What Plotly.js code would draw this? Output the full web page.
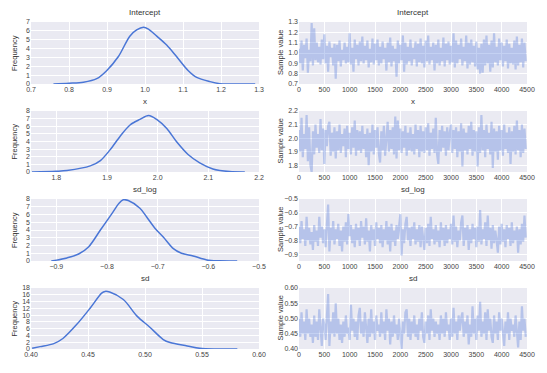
<!DOCTYPE html>
<html>
<head>
<meta charset="utf-8">
<script src="https://cdn.plot.ly/plotly-3.0.1.min.js"></script>
<style>html,body{margin:0;padding:0;background:#fff}#chart{width:547px;height:373px}</style>
</head>
<body>
<div id="chart"></div>
<script>
// ---- data ----
const paramNames = ["Intercept", "x", "sd_log", "sd"];
const traceStep = 25; // samples between recorded trace points

const kdeInterceptX = [0.759, 0.80, 0.838, 0.873, 0.899, 0.93, 0.96, 0.978, 0.996, 1.009, 1.031, 1.057, 1.083, 1.114, 1.136, 1.171, 1.197, 1.23, 1.29];
const kdeInterceptY = [0, 0.08, 0.2, 0.6, 1.5, 3.1, 5.4, 6.1, 6.4, 6.2, 5.4, 4.4, 3.1, 1.5, 0.75, 0.27, 0.04, 0.01, 0];
const kdeXX = [1.752, 1.80, 1.821, 1.867, 1.887, 1.906, 1.926, 1.946, 1.965, 1.982, 1.998, 2.018, 2.037, 2.06, 2.083, 2.109, 2.142, 2.172];
const kdeXY = [0, 0.1, 0.2, 0.8, 1.5, 2.9, 4.7, 6.2, 6.9, 7.4, 6.9, 5.7, 4.0, 2.3, 1.2, 0.4, 0.05, 0];
const kdeSdLogX = [-0.910, -0.879, -0.856, -0.836, -0.813, -0.790, -0.777, -0.768, -0.758, -0.735, -0.722, -0.705, -0.689, -0.669, -0.653, -0.630, -0.603, -0.577, -0.543];
const kdeSdLogY = [0, 0.4, 0.9, 1.85, 4.0, 6.15, 7.4, 7.9, 7.8, 6.8, 5.7, 4.2, 3.1, 1.6, 1.0, 0.65, 0.13, 0.02, 0];
const kdeSdX = [0.401, 0.408, 0.420, 0.428, 0.440, 0.452, 0.462, 0.465, 0.469, 0.481, 0.493, 0.504, 0.516, 0.522, 0.537, 0.548, 0.563, 0.581];
const kdeSdY = [0.2, 0.7, 1.6, 3.1, 7.2, 12.1, 16.5, 17.0, 16.8, 14.6, 9.7, 6.5, 2.8, 1.9, 0.9, 0.2, 0, 0];

const traceIntercept = [
1.04,0.90,1.12,0.83,1.08,0.95,1.14,0.81,1.03,0.92,
1.29,0.88,1.24,0.93,1.10,0.91,1.06,0.89,1.13,0.94,
1.18,0.90,1.07,0.82,1.11,0.96,1.05,0.88,1.09,0.75,
1.08,0.92,1.12,0.87,1.03,0.93,1.10,0.90,1.06,0.91,
1.19,0.89,1.05,0.82,1.13,0.94,1.08,0.88,1.11,0.92,
1.16,0.90,1.07,0.93,1.12,0.86,1.04,0.91,1.14,0.89,
1.09,0.93,1.13,0.88,1.06,0.90,1.11,0.94,1.05,0.83,
1.10,0.91,1.15,0.87,1.07,0.92,1.04,0.77,1.12,0.90,
1.08,0.93,1.17,0.82,1.10,0.89,1.06,0.92,1.13,0.88,
1.05,0.94,1.11,0.87,1.09,0.91,1.14,0.90,1.07,0.86,
1.12,0.92,1.17,0.89,1.06,0.93,1.10,0.83,1.08,0.90,
1.13,0.88,1.05,0.92,1.15,0.87,1.09,0.93,1.11,0.89,
1.07,0.91,1.19,0.86,1.12,0.90,1.08,0.94,1.14,0.88,
1.06,0.92,1.17,0.85,1.10,0.89,1.13,0.91,1.07,0.87,
1.11,0.84,1.05,0.80,1.09,0.81,1.13,0.88,1.17,0.90,
1.08,0.82,1.12,0.86,1.19,0.91,1.06,0.88,1.14,0.93,
1.10,0.87,1.07,0.92,1.13,0.85,1.09,0.90,1.05,0.89,
1.12,0.84,1.16,0.88,1.08,0.91,1.14,0.86,1.10,0.92];

const traceX = [
2.06,1.90,2.15,1.86,2.03,1.92,2.17,1.83,2.08,1.80,
1.75,2.05,1.88,2.10,1.93,2.03,1.89,2.14,1.91,2.07,
1.81,2.06,1.94,2.09,2.12,1.87,2.04,1.90,2.08,1.85,
2.05,1.91,2.10,1.89,2.03,1.94,2.07,1.86,2.09,1.92,
2.04,1.88,2.08,1.93,2.13,1.87,2.06,1.91,2.05,1.89,
2.09,1.92,2.03,1.86,2.07,1.80,2.04,1.90,2.10,1.88,
2.06,1.93,2.08,1.89,1.82,2.05,1.91,2.09,1.87,2.04,
2.12,1.90,2.06,1.92,2.08,1.88,2.16,1.85,2.13,1.91,
2.07,1.89,2.05,1.93,2.09,1.87,2.04,1.91,2.08,1.90,
2.03,1.88,2.10,1.92,2.06,1.86,2.09,1.90,2.05,1.89,
2.08,1.91,2.11,1.87,2.04,1.92,2.07,1.89,2.15,1.88,
1.81,2.06,1.90,2.09,1.93,2.05,1.87,2.08,1.91,2.04,
2.10,1.89,2.06,1.92,2.08,1.86,2.05,1.90,2.11,1.79,
2.07,1.91,2.04,1.88,2.09,1.92,2.12,1.87,2.06,1.90,
2.05,1.79,2.08,1.89,2.17,1.91,2.06,1.86,2.10,1.92,
2.04,1.88,2.12,1.78,2.07,1.90,2.05,1.84,2.09,1.91,
2.06,1.87,2.10,1.92,2.04,1.89,2.08,1.81,2.05,1.90,
2.09,1.88,2.13,1.91,2.06,1.86,2.10,1.89,2.07,1.92];

const traceSdLog = [
-0.70,-0.82,-0.66,-0.79,-0.72,-0.84,-0.63,-0.80,-0.71,-0.83,
-0.74,-0.87,-0.69,-0.81,-0.73,-0.84,-0.63,-0.78,-0.70,-0.82,
-0.72,-0.85,-0.69,-0.54,-0.88,-0.71,-0.80,-0.66,-0.83,-0.72,
-0.79,-0.68,-0.84,-0.73,-0.88,-0.70,-0.81,-0.67,-0.83,-0.61,
-0.77,-0.69,-0.82,-0.72,-0.85,-0.68,-0.80,-0.71,-0.84,-0.66,
-0.78,-0.70,-0.83,-0.64,-0.81,-0.73,-0.88,-0.69,-0.80,-0.72,
-0.84,-0.67,-0.79,-0.71,-0.82,-0.69,-0.85,-0.72,-0.80,-0.66,
-0.83,-0.70,-0.88,-0.68,-0.81,-0.73,-0.84,-0.69,-0.79,-0.71,
-0.61,-0.91,-0.72,-0.82,-0.68,-0.63,-0.80,-0.71,-0.84,-0.70,
-0.79,-0.67,-0.83,-0.72,-0.81,-0.69,-0.85,-0.70,-0.80,-0.87,
-0.71,-0.82,-0.68,-0.84,-0.63,-0.79,-0.72,-0.83,-0.69,-0.81,
-0.73,-0.85,-0.67,-0.80,-0.71,-0.84,-0.69,-0.82,-0.72,-0.79,
-0.68,-0.83,-0.62,-0.81,-0.70,-0.85,-0.73,-0.80,-0.67,-0.62,
-0.84,-0.71,-0.80,-0.69,-0.87,-0.72,-0.82,-0.68,-0.79,-0.71,
-0.85,-0.70,-0.81,-0.58,-0.83,-0.72,-0.79,-0.67,-0.84,-0.62,
-0.80,-0.71,-0.86,-0.69,-0.82,-0.73,-0.80,-0.89,-0.70,-0.83,
-0.68,-0.81,-0.72,-0.85,-0.69,-0.79,-0.71,-0.84,-0.67,-0.82,
-0.73,-0.80,-0.70,-0.89,-0.72,-0.83,-0.68,-0.81,-0.62,-0.78];

const traceSd = [
0.50,0.44,0.52,0.45,0.49,0.43,0.53,0.45,0.50,0.44,
0.48,0.42,0.51,0.44,0.49,0.43,0.53,0.46,0.41,0.50,
0.48,0.43,0.51,0.58,0.41,0.49,0.45,0.52,0.44,0.55,
0.45,0.50,0.43,0.48,0.42,0.49,0.44,0.51,0.45,0.47,
0.43,0.545,0.46,0.50,0.44,0.49,0.43,0.51,0.535,0.45,
0.49,0.44,0.52,0.46,0.42,0.50,0.44,0.53,0.45,0.49,
0.43,0.51,0.46,0.48,0.44,0.52,0.45,0.49,0.43,0.53,
0.46,0.50,0.415,0.49,0.44,0.51,0.45,0.48,0.43,0.50,
0.44,0.40,0.49,0.45,0.52,0.53,0.44,0.50,0.43,0.49,
0.45,0.51,0.44,0.48,0.43,0.50,0.46,0.52,0.44,0.42,
0.49,0.45,0.51,0.43,0.53,0.46,0.50,0.44,0.49,0.45,
0.48,0.43,0.51,0.45,0.50,0.44,0.52,0.46,0.48,0.43,
0.50,0.44,0.535,0.45,0.49,0.43,0.51,0.46,0.50,0.52,
0.44,0.49,0.45,0.51,0.415,0.48,0.44,0.54,0.45,0.50,
0.43,0.51,0.46,0.555,0.44,0.49,0.45,0.52,0.43,0.53,
0.46,0.50,0.44,0.42,0.51,0.45,0.49,0.43,0.52,0.46,
0.50,0.44,0.41,0.49,0.45,0.52,0.43,0.50,0.46,0.48,
0.44,0.51,0.45,0.405,0.49,0.43,0.54,0.46,0.50,0.44];

const kdeXs = [kdeInterceptX, kdeXX, kdeSdLogX, kdeSdX];
const kdeYs = [kdeInterceptY, kdeXY, kdeSdLogY, kdeSdY];
const traces = [traceIntercept, traceX, traceSdLog, traceSd];

const valueRanges = [[0.7, 1.3], [1.75, 2.2], [-0.95, -0.5], [0.40, 0.60]];
const valueDtick = [0.1, 0.1, 0.1, 0.05];
const valueFormat = [".1f", ".1f", ".1f", ".2f"];
const freqRanges = [[0, 7], [0, 8], [0, 8], [0, 18]];
const freqDtick = [1, 1, 1, 2];
const iterRange = [0, 4500];

// ---- layout ----
const W = 547, H = 373;
const leftDom = [31 / W, 259 / W];
const rightDom = [299 / W, 527 / W];
const rowPx = [[22, 84], [111, 172], [199, 261], [288, 349]];
const bg = "#EAEAF2";
const tickFont = {family: "Liberation Sans, Arial, sans-serif", size: 7, color: "#444"};
const kdeColor = "#4a76d6";
const traceColor = "rgba(92,128,220,0.36)";

const data = [];
const layout = {
  width: W, height: H,
  margin: {l: 0, r: 0, t: 0, b: 0},
  paper_bgcolor: "#fff",
  plot_bgcolor: bg,
  showlegend: false,
  annotations: []
};

function axisBase(extra) {
  return Object.assign({
    showgrid: true, gridcolor: "#fff", gridwidth: 1,
    zeroline: false, showline: false, ticks: "",
    tickfont: tickFont, fixedrange: true
  }, extra);
}

for (let r = 0; r < 4; r++) {
  const yd = [1 - rowPx[r][1] / H, 1 - rowPx[r][0] / H];
  const li = 2 * r + 1, ri = 2 * r + 2;
  const ln = li === 1 ? "" : li, rn = ri;

  data.push({
    x: kdeXs[r], y: kdeYs[r], type: "scatter", mode: "lines",
    line: {color: kdeColor, width: 1.5, shape: "spline", smoothing: 0.9},
    xaxis: "x" + ln, yaxis: "y" + ln, hoverinfo: "skip"
  });
  const it = traces[r].map((v, i) => i * traceStep);
  data.push({
    x: it, y: traces[r], type: "scatter", mode: "lines",
    line: {color: traceColor, width: 2.2},
    xaxis: "x" + rn, yaxis: "y" + rn, hoverinfo: "skip"
  });

  layout["xaxis" + ln] = axisBase({domain: leftDom, anchor: "y" + ln, range: valueRanges[r], dtick: valueDtick[r], tick0: 0, tickformat: valueFormat[r]});
  layout["yaxis" + ln] = axisBase({domain: yd, anchor: "x" + ln, range: freqRanges[r], dtick: freqDtick[r], tick0: 0});
  layout["xaxis" + rn] = axisBase({domain: rightDom, anchor: "y" + rn, range: iterRange, dtick: 500, tick0: 0});
  layout["yaxis" + rn] = axisBase({domain: yd, anchor: "x" + rn, range: valueRanges[r], dtick: valueDtick[r], tick0: 0, tickformat: valueFormat[r]});

  const titleFont = {family: "Liberation Sans, Arial, sans-serif", size: 8, color: "#333"};
  [leftDom, rightDom].forEach(d => {
    layout.annotations.push({
      text: paramNames[r], xref: "paper", yref: "paper",
      x: (d[0] + d[1]) / 2, y: yd[1], yshift: 3, xanchor: "center", yanchor: "bottom",
      showarrow: false, font: titleFont
    });
  });
  const yc = (yd[0] + yd[1]) / 2;
  layout.annotations.push({
    text: "Frequency", xref: "paper", yref: "paper", x: 14 / W, y: yc,
    xanchor: "center", yanchor: "middle", textangle: -90, showarrow: false,
    font: {family: "Liberation Sans, Arial, sans-serif", size: 7.5, color: "#333"}
  });
  layout.annotations.push({
    text: "Sample value", xref: "paper", yref: "paper", x: 280 / W, y: yc,
    xanchor: "center", yanchor: "middle", textangle: -90, showarrow: false,
    font: {family: "Liberation Sans, Arial, sans-serif", size: 7.5, color: "#333"}
  });
}

Plotly.newPlot("chart", data, layout, {staticPlot: true, displayModeBar: false});
</script>
</body>
</html>
